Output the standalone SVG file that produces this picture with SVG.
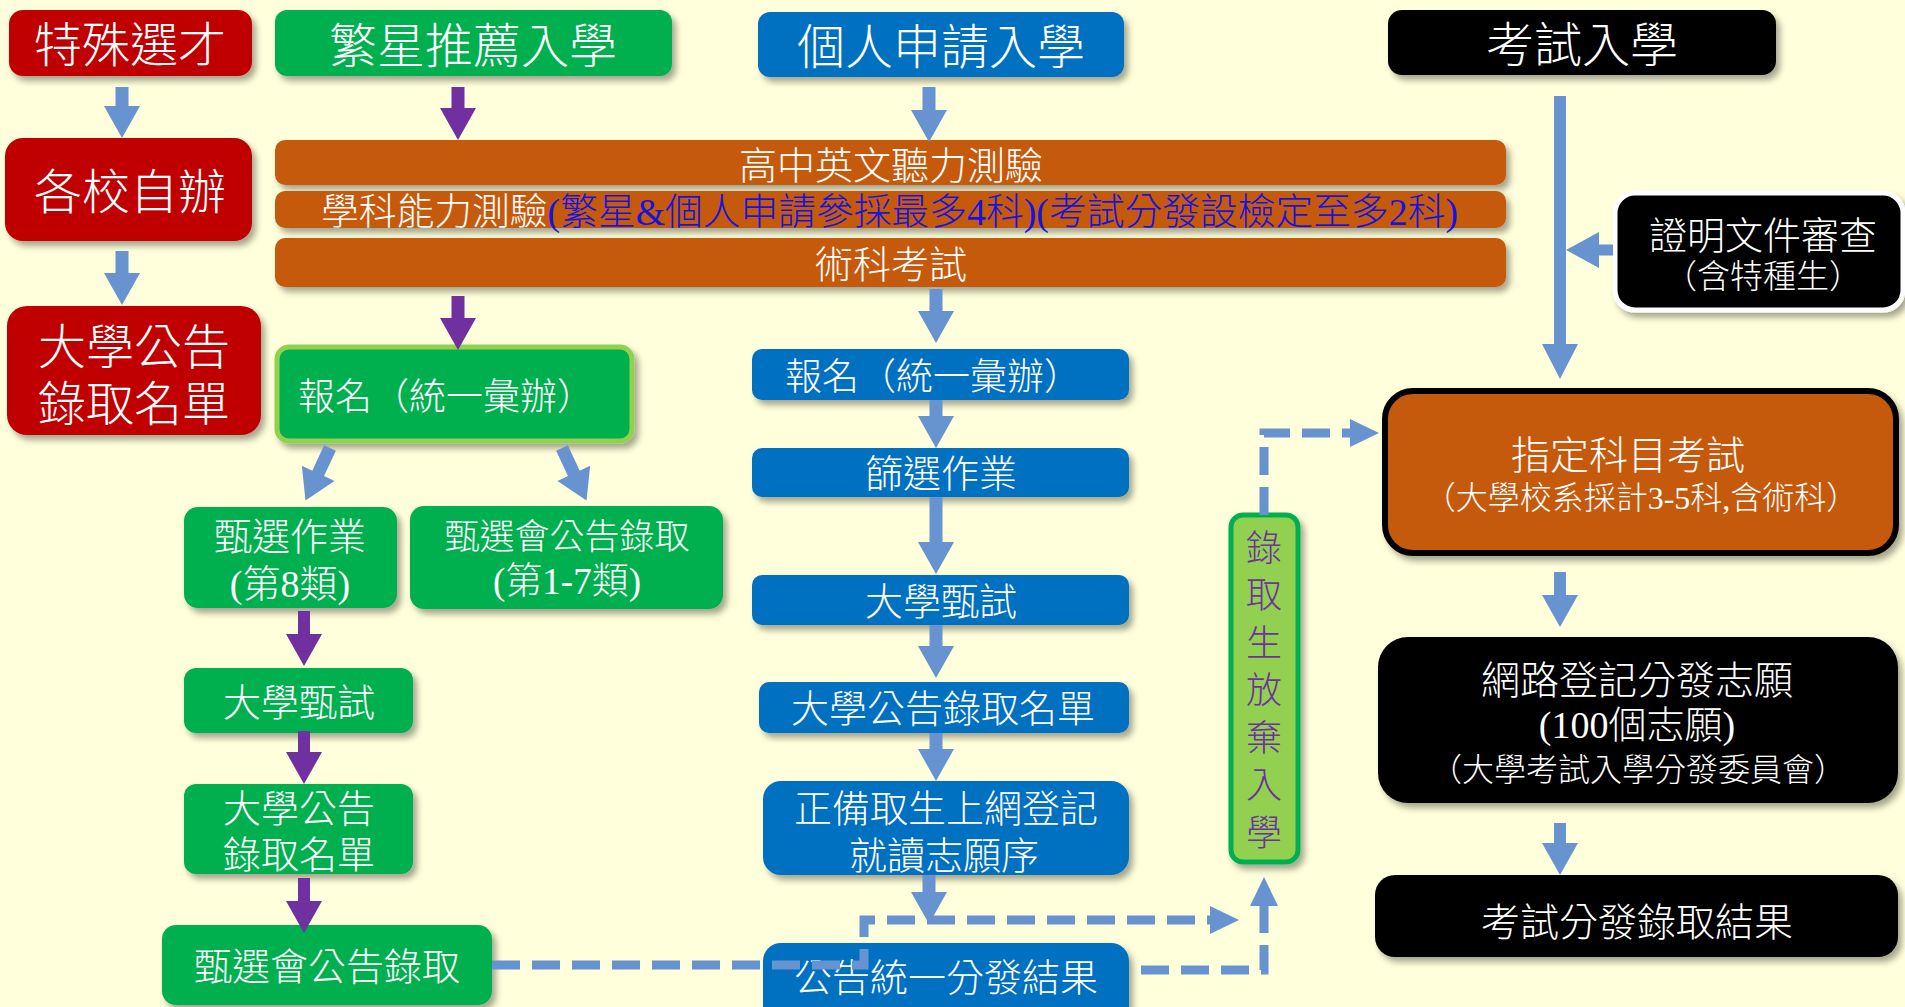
<svg xmlns="http://www.w3.org/2000/svg" width="1905" height="1007" viewBox="0 0 1905 1007">
<defs>
<filter id="sh" x="-10%" y="-10%" width="125%" height="140%">
<feDropShadow dx="4" dy="5" stdDeviation="3" flood-color="#000" flood-opacity="0.35"/>
</filter>
<style>
text{font-family:"Liberation Serif","Noto Sans CJK TC",serif;font-weight:300;fill:#fff;text-anchor:middle;dominant-baseline:central;}
.box{filter:url(#sh);}
.red{fill:#C00000;}
.grn{fill:#00B050;}
.blu{fill:#0070C0;}
.blk{fill:#000;}
.org{fill:#C55A11;}
.ab{fill:#6794D0;}
.ap{fill:#7030A0;}
.dash{fill:none;stroke:#6794D0;stroke-width:9;stroke-dasharray:28 12;}
.f48{font-size:48px;}
.f38{font-size:38px;}
.f37{font-size:37px;}
.f35{font-size:35px;}
.f32{font-size:32px;}
.vt{fill:#7030A0;font-size:36px;}
</style>
</defs>
<rect x="0" y="0" width="1905" height="1007" fill="#FFFFDB"/>

<g id="n-teshu"><rect class="box red" x="9" y="10" width="243" height="66" rx="14"/><text class="f48" x="130" y="45">特殊選才</text></g>
<g id="n-gexiao"><rect class="box red" x="5" y="138" width="247" height="103" rx="18"/><text class="f48" x="130" y="192">各校自辦</text></g>
<g id="n-red-gonggao"><rect class="box red" x="7" y="306" width="254" height="129" rx="20"/><text class="f48" x="134" y="347">大學公告</text><text class="f48" x="134" y="404">錄取名單</text></g>

<g id="n-fanxing"><rect class="box grn" x="275" y="10" width="397" height="66" rx="12"/><text class="f48" x="473" y="46">繁星推薦入學</text></g>
<g id="n-geren"><rect class="box blu" x="758" y="12" width="366" height="65" rx="12"/><text class="f48" x="941" y="47">個人申請入學</text></g>
<g id="n-kaoshi"><rect class="box blk" x="1388" y="10" width="388" height="65" rx="14"/><text class="f48" x="1582" y="45">考試入學</text></g>

<g id="n-bar1"><rect class="box org" x="275" y="140" width="1231" height="45" rx="10"/><text class="f38" x="891" y="166">高中英文聽力測驗</text></g>
<g id="n-bar2"><rect class="box org" x="275" y="191" width="1231" height="37" rx="10"/><text class="f37" x="321" y="212" style="text-anchor:start" textLength="1137" lengthAdjust="spacingAndGlyphs">學科能力測驗<tspan style="fill:#1414E0">(繁星&amp;個人申請參採最多4科)(考試分發設檢定至多2科)</tspan></text></g>
<g id="n-bar3"><rect class="box org" x="275" y="238" width="1231" height="49" rx="10"/><text class="f38" x="891" y="265">術科考試</text></g>

<g id="n-zhengming"><rect class="box blk" x="1615" y="193" width="288" height="117" rx="20" stroke="#fff" stroke-width="5"/><text class="f38" x="1763" y="236">證明文件審查</text><text style="font-size:33px" x="1763" y="277">（含特種生）</text></g>

<g id="n-green-baoming"><rect class="box grn" x="277" y="347" width="355" height="94" rx="12" stroke="#92D050" stroke-width="5"/><text class="f37" x="446" y="397">報名（統一彙辦）</text></g>
<g id="n-zhenxuan8"><rect class="box grn" x="184" y="507" width="213" height="101" rx="14"/><text class="f38" x="290" y="537">甄選作業</text><text class="f38" x="290" y="584">(第8類)</text></g>
<g id="n-zhenxuan17"><rect class="box grn" x="410" y="506" width="313" height="103" rx="14"/><text class="f35" x="567" y="537">甄選會公告錄取</text><text class="f37" x="567" y="581">(第1-7類)</text></g>
<g id="n-green-zhenshi"><rect class="box grn" x="184" y="668" width="229" height="65" rx="12"/><text class="f38" x="299" y="703">大學甄試</text></g>
<g id="n-green-gonggao"><rect class="box grn" x="184" y="784" width="229" height="90" rx="12"/><text class="f38" x="299" y="809">大學公告</text><text class="f38" x="299" y="855">錄取名單</text></g>
<g id="n-green-luqu"><rect class="box grn" x="162" y="925" width="330" height="80" rx="14"/><text class="f38" x="327" y="967">甄選會公告錄取</text></g>

<g id="n-blue-baoming"><rect class="box blu" x="752" y="349" width="377" height="51" rx="10"/><text class="f37" x="933" y="377">報名（統一彙辦）</text></g>
<g id="n-shaixuan"><rect class="box blu" x="752" y="448" width="377" height="49" rx="10"/><text class="f38" x="941" y="474">篩選作業</text></g>
<g id="n-blue-zhenshi"><rect class="box blu" x="752" y="575" width="377" height="50" rx="10"/><text class="f38" x="941" y="602">大學甄試</text></g>
<g id="n-blue-gonggao"><rect class="box blu" x="759" y="682" width="370" height="51" rx="10"/><text class="f38" x="943" y="709">大學公告錄取名單</text></g>
<g id="n-zhengbei"><rect class="box blu" x="763" y="781" width="366" height="94" rx="18"/><text class="f38" x="946" y="809">正備取生上網登記</text><text class="f38" x="944" y="856">就讀志願序</text></g>
<g id="n-fenfa"><rect class="box blu" x="763" y="943" width="366" height="90" rx="18"/><text class="f38" x="946" y="978">公告統一分發結果</text></g>

<g id="n-fangqi"><rect class="box" x="1231" y="515" width="67" height="347" rx="12" fill="#92D050" stroke="#00B050" stroke-width="5"/>
<text class="vt" x="1264" y="549">錄</text><text class="vt" x="1264" y="596">取</text><text class="vt" x="1264" y="644">生</text><text class="vt" x="1264" y="691">放</text><text class="vt" x="1264" y="739">棄</text><text class="vt" x="1264" y="786">入</text><text class="vt" x="1264" y="834">學</text></g>

<g id="n-zhiding"><rect class="box org" x="1385" y="391" width="511" height="162" rx="28" stroke="#000" stroke-width="6"/><text style="font-size:39px" x="1628" y="455">指定科目考試</text><text class="f32" x="1641" y="498">（大學校系採計3-5科,含術科）</text></g>
<g id="n-wanglu"><rect class="box blk" x="1378" y="637" width="520" height="166" rx="30"/><text style="font-size:39px" x="1637" y="680">網路登記分發志願</text><text class="f38" x="1637" y="725">(100個志願)</text><text class="f32" x="1638" y="770">（大學考試入學分發委員會）</text></g>
<g id="n-jieguo"><rect class="box blk" x="1375" y="875" width="523" height="82" rx="20"/><text style="font-size:39px" x="1637" y="922">考試分發錄取結果</text></g>

<g id="connectors">
<polygon class="ab" points="115.5,87 128.5,87 128.5,106 140,106 122,138 104,106 115.5,106"/>
<polygon class="ab" points="115.5,251 128.5,251 128.5,273 140,273 122,305 104,273 115.5,273"/>
<polygon class="ap" points="451.5,87 464.5,87 464.5,108 476,108 458,140 440,108 451.5,108"/>
<polygon class="ab" points="922.5,87 935.5,87 935.5,110 947,110 929,142 911,110 922.5,110"/>
<polygon class="ap" points="451.5,296 464.5,296 464.5,318 476,318 458,350 440,318 451.5,318"/>
<polygon class="ab" points="929.5,289 942.5,289 942.5,311 954,311 936,343 918,311 929.5,311"/>
<polygon class="ab" points="929.5,400 942.5,400 942.5,416 954,416 936,448 918,416 929.5,416"/>
<polygon class="ab" points="929.5,497 942.5,497 942.5,542 954,542 936,574 918,542 929.5,542"/>
<polygon class="ab" points="929.5,625 942.5,625 942.5,646 954,646 936,678 918,646 929.5,646"/>
<polygon class="ab" points="929.5,733 942.5,733 942.5,749 954,749 936,781 918,749 929.5,749"/>
<polygon class="ab" points="922.5,875 935.5,875 935.5,892 947,892 929,924 911,892 922.5,892"/>
<polygon class="ab" transform="translate(330,448) rotate(25)" points="-6.5,0 6.5,0 6.5,28 18,28 0,58 -18,28 -6.5,28"/>
<polygon class="ab" transform="translate(562,448) rotate(-25)" points="-6.5,0 6.5,0 6.5,28 18,28 0,58 -18,28 -6.5,28"/>
<polygon class="ap" points="298,611 310,611 310,634 322,634 304,666 286,634 298,634"/>
<polygon class="ap" points="298,731 310,731 310,752 322,752 304,784 286,752 298,752"/>
<polygon class="ap" points="298,878 310,878 310,901 322,901 304,933 286,901 298,901"/>
<polygon class="ab" points="1554,96 1566,96 1566,344 1578,344 1560,379 1542,344 1554,344"/>
<polygon class="ab" points="1613,244.5 1599,244.5 1599,232 1566,250 1599,268 1599,255.5 1613,255.5"/>
<polygon class="ab" points="1554,572 1566,572 1566,595 1578,595 1560,627 1542,595 1554,595"/>
<polygon class="ab" points="1554,823 1566,823 1566,843 1578,843 1560,875 1542,843 1554,843"/>
<path class="dash" d="M492,965 H864 V920 H1210"/>
<polygon class="ab" points="1210,906 1239,920 1210,934"/>
<path class="dash" d="M1141,970 H1264 V906"/>
<polygon class="ab" points="1250,906 1264,877 1278,906"/>
<path class="dash" d="M1264,515 V433 H1350"/>
<polygon class="ab" points="1350,419 1379,433 1350,447"/>
</g>
</svg>
